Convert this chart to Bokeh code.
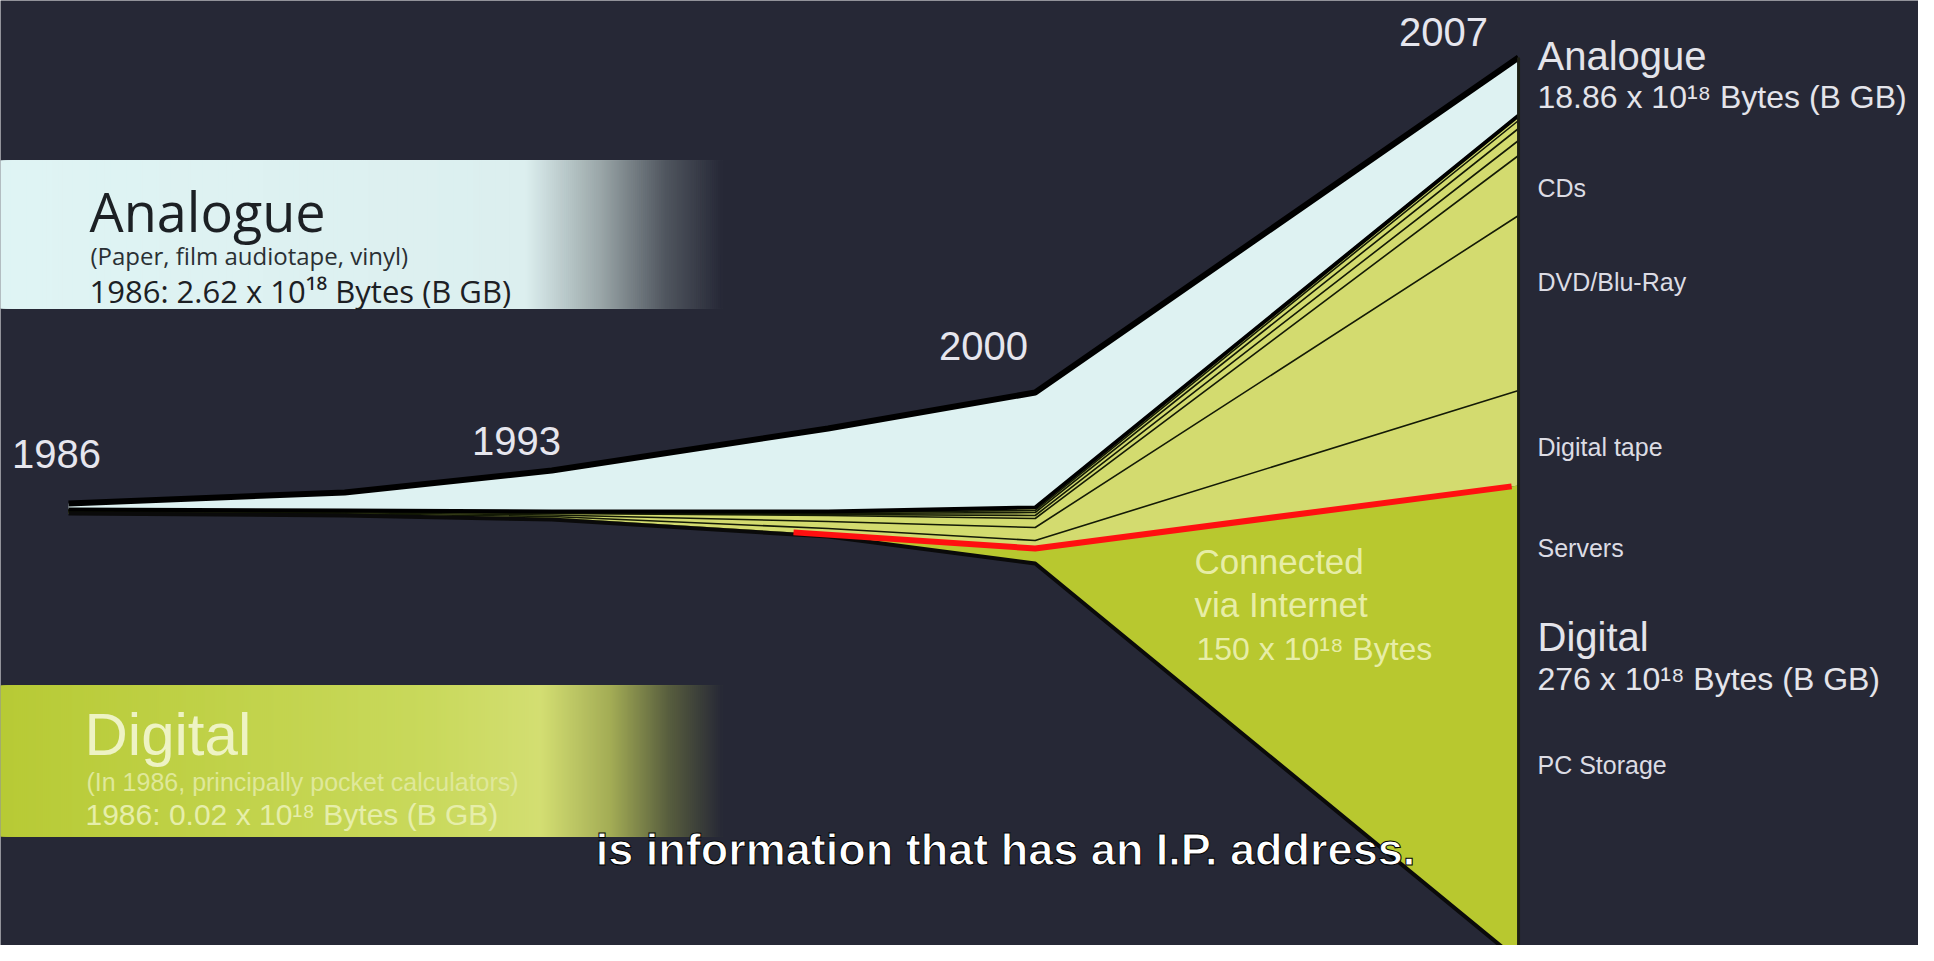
import numpy as np
from bokeh.plotting import figure
from bokeh.models import Range1d
from bokeh.core.properties import value
from bokeh.embed import file_html
from bokeh.resources import INLINE

# ---------------- data (relative band heights) ----------------
years = [1986, 1990, 1993, 1997, 2000, 2007]
year_labels = ["1986", "1993", "2000", "2007"]
stream_offset = [2, 1, 0, 0, 4, 396]          # split between analogue and digital
analogue = [6, 18, 41, 83, 115, 58]
layer_names = ["Other media 1", "Other media 2", "Other media 3", "Other media 4",
               "CDs", "DVD/Blu-Ray", "Digital tape", "Servers", "PC Storage"]
other1 = [0.3, 0.3, 0.5, 1, 3, 5]
other2 = [0.3, 0.3, 0.5, 1, 2, 8]
other3 = [0.3, 0.3, 0.5, 1, 3, 12]
other4 = [0.3, 0.3, 0.5, 1, 3, 15]
cds = [0.7, 1.0, 1.5, 6, 9, 60]
dvd = [0.7, 1.0, 1.5, 7, 13, 175]
digital_tape = [0.6, 0.8, 1.0, 6, 8, 95]
servers = [0.3, 0.4, 0.8, 0.8, 5, 115]
pc_storage = [0.5, 0.6, 1.2, 1.2, 10, 360]
internet_years = [1996.5, 2000, 2006.9]

right_labels = ["CDs", "DVD/Blu-Ray", "Digital tape", "Servers", "PC Storage"]

BG = "#262836"
ANALOGUE_FILL = "#def2f2"
LIGHT_GREEN = "#d3db6f"
DARK_GREEN = "#b8c82f"

# ---------------- coordinate helpers (pixel -> data) ----------------
PX_PER_YEAR = 69.05
def xd(px):
    return 1986 + (px - 68) / PX_PER_YEAR
def yd(py):
    return 511 - py

W, H = 1918, 945
p = figure(width=W, height=H, output_backend="svg", toolbar_location=None,
           x_range=Range1d(xd(0), xd(W)), y_range=Range1d(yd(H), yd(0)),
           x_axis_type=None, y_axis_type=None, min_border=0,
           background_fill_color=BG, border_fill_color=BG, outline_line_color=None)
p.xgrid.visible = False
p.ygrid.visible = False

# ---------------- left gradient boxes ----------------
def hex2rgb(h):
    h = h.lstrip("#")
    return tuple(int(h[i:i + 2], 16) for i in (0, 2, 4))
def lerp(c1, c2, t):
    a, b = hex2rgb(c1), hex2rgb(c2)
    return "#%02x%02x%02x" % tuple(int(round(u + (v - u) * t)) for u, v in zip(a, b))

def gradient_box(top_px, bot_px, stops):
    # stops: list of (px, colour); overlapping slices drawn left->right (no seams)
    end = stops[-1][0]
    L, C = [stops[0][0]], [stops[0][1]]
    for (x0, c0), (x1, c1) in zip(stops[:-1], stops[1:]):
        n = max(1, int((x1 - x0) / 2))
        for i in range(n):
            a = x0 + (x1 - x0) * i / n
            L.append(a); C.append(lerp(c0, c1, (i + 0.5) / n))
    p.quad(left=[xd(a) for a in L], right=[xd(end)] * len(L),
           top=[yd(top_px)] * len(L), bottom=[yd(bot_px)] * len(L),
           fill_color=C, line_color=None)

gradient_box(160, 308, [(0, "#dff4f4"), (525, "#dcefef"), (600, "#9aa6a8"),
                        (665, "#50565f"), (722, BG)])
gradient_box(685, 836, [(0, "#b7ca35"), (430, "#c9d95c"), (540, "#d3de72"),
                        (610, "#a3ac55"), (668, "#585e3e"), (722, BG)])

# ---------------- stream layers ----------------
off = np.array(stream_offset, float)
ana_top = off + np.array(analogue, float)
p.varea(x=years, y1=off, y2=ana_top, fill_color=ANALOGUE_FILL)

layers = [other1, other2, other3, other4, cds, dvd, digital_tape, servers, pc_storage]
bounds = [off.copy()]
cum = off.copy()
for vals in layers:
    cum = cum - np.array(vals, float)
    bounds.append(cum)

# light layers (media) and dark layers (servers + PC storage), each as one area
p.varea(x=years, y1=bounds[7], y2=bounds[0], fill_color=LIGHT_GREEN)
p.varea(x=years, y1=bounds[9], y2=bounds[7], fill_color=DARK_GREEN)

# thin boundaries between light layers
for b in bounds[1:7]:
    p.line(years, b, line_color="#141a06", line_width=1.6)
# outlines
p.line(years, ana_top, line_color="black", line_width=6)
p.line(years, off, line_color="black", line_width=4)
p.line(years, bounds[-1], line_color="#0a0a0a", line_width=4)
p.segment(x0=[years[-1]], y0=[ana_top[-1]], x1=[years[-1]], y1=[bounds[-1][-1]],
          line_color="#1c1e14", line_width=3)

# red "connected via internet" line along the top of the servers band
red_y = np.interp(internet_years, years, bounds[7])
p.line(internet_years, red_y, line_color="#ff1010", line_width=6)

# ---------------- texts (y = visual centre) ----------------
def txt(x, y, s, size, color, font="Liberation Sans", align="left", style="normal", alpha=1.0, **kw):
    p.text(x=[xd(x)], y=[yd(y)], text=[s], text_font=value(font), text_font_size=value(size),
           text_color=color, text_align=align, text_baseline="middle",
           text_font_style=style, text_alpha=alpha, **kw)

# year labels
for lab, (cx, cy) in zip(year_labels, [(56, 453), (516, 440), (983, 345), (1443, 31)]):
    txt(cx, cy, lab, "40px", "#e6e6ee", align="center")

# left boxes
txt(89, 210, "Analogue", "54px", "#1c2024", font="Open Sans")
txt(90, 255, "(Paper, film audiotape, vinyl)", "24px", "#2a3034", font="Open Sans")
txt(89, 290, "1986: 2.62 x 10\u00b9\u2078 Bytes (B GB)", "31px", "#1c2024", font="Open Sans")

txt(84, 734, "Digital", "60px", "#eef3c4")
txt(86, 781, "(In 1986, principally pocket calculators)", "25px", "#dfe89a")
txt(85, 814, "1986: 0.02 x 10\u00b9\u2078 Bytes (B GB)", "30px", "#e6eeaa")

# right labels
txt(1537, 55, "Analogue", "40px", "#e4e4ea")
txt(1537, 96, "18.86 x 10\u00b9\u2078 Bytes (B GB)", "32px", "#e4e4ea")
for lab, cy in zip(right_labels, [187, 281, 446, 547, 764]):
    txt(1537, cy, lab, "25px", "#dcdce4")
txt(1537, 636, "Digital", "40px", "#e4e4ea")
txt(1537, 678, "276 x 10\u00b9\u2078 Bytes (B GB)", "32px", "#e4e4ea")

# connected via internet
txt(1194, 561, "Connected", "35px", "#eef3b8", alpha=0.9)
txt(1194, 604, "via Internet", "35px", "#eef3b8", alpha=0.9)
txt(1196, 648, "150 x 10\u00b9\u2078 Bytes", "32px", "#eef3b8", alpha=0.9)

# subtitle
txt(1005, 849, "is information that has an I.P. address.", "45px", "white", align="center",
    style="bold", text_outline_color="black")

html = file_html(p, INLINE)
html = html.replace("<body>", '<body style="background-color:%s;">' % BG, 1)
open("out.html", "w").write(html)
